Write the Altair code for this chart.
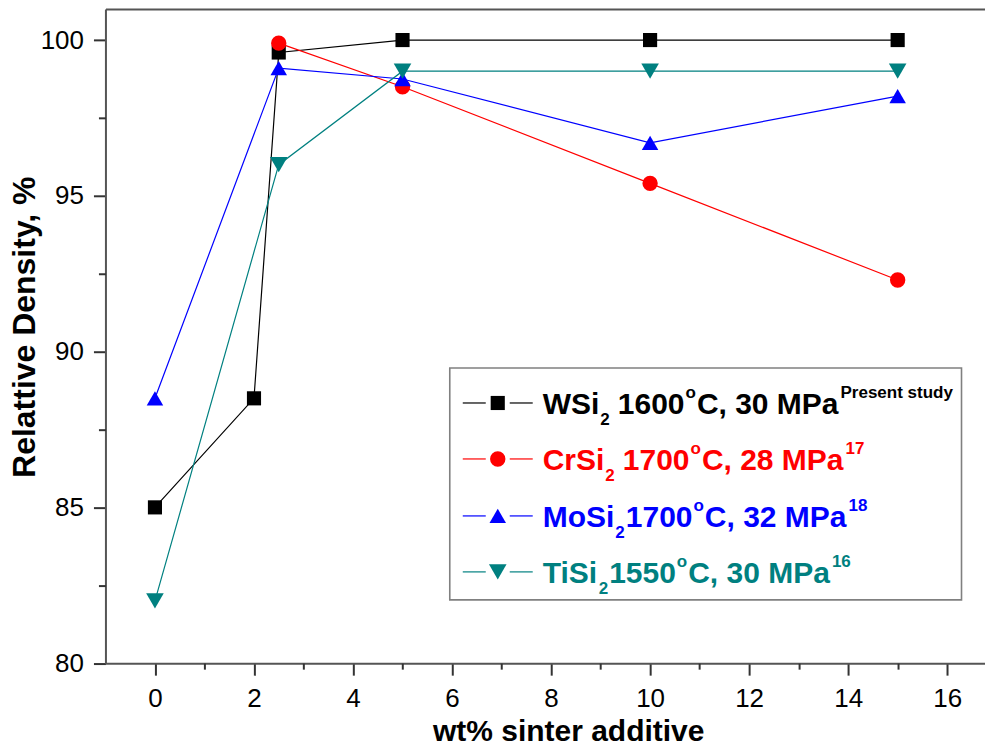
import altair as alt
import pandas as pd

# ---------------- data ----------------
series = ["WSi2", "CrSi2", "MoSi2", "TiSi2"]

w_x = [0, 2, 2.5, 5, 10, 15]
w_y = [85.0, 88.5, 99.6, 100.0, 100.0, 100.0]
cr_x = [2.5, 5, 10, 15]
cr_y = [99.9, 98.5, 95.4, 92.3]
mo_x = [0, 2.5, 5, 10, 15]
mo_y = [88.5, 99.1, 98.75, 96.7, 98.2]
ti_x = [0, 2.5, 5, 10, 15]
ti_y = [82.0, 96.0, 99.0, 99.0, 99.0]

legend_compound = ["WSi", "CrSi", "MoSi", "TiSi"]
legend_temp = ["1600", "1700", "1700", "1550"]
legend_press = ["C, 30 MPa", "C, 28 MPa", "C, 32 MPa", "C, 30 MPa"]
legend_ref = ["Present study", "17", "18", "16"]

x_major = [0, 2, 4, 6, 8, 10, 12, 14, 16]
x_minor = [1, 3, 5, 7, 9, 11, 13, 15]
y_major = [80, 85, 90, 95, 100]
y_minor = [82.5, 87.5, 92.5, 97.5]

# ---------------- styles ----------------
colors = ["#000000", "#ff0000", "#0000ff", "#008080"]
shapes = ["square", "circle", "triangle-up", "triangle-down"]
sizes = [200, 310, 420, 420]
FONT = "Liberation Sans"
AXC = "#555555"

W, H = 880, 654.6
PAD_L, PAD_T = 105.5, 8.7
PAD_B = 749 - PAD_T - H

rows = []
for s, xs_, ys_ in zip(series, [w_x, cr_x, mo_x, ti_x], [w_y, cr_y, mo_y, ti_y]):
    for a, b in zip(xs_, ys_):
        rows.append({"series": s, "x": a, "y": b})
df = pd.DataFrame(rows)

xs = alt.Scale(domain=[-1, 16.764], nice=False, zero=False)
ys = alt.Scale(domain=[80, 101], nice=False, zero=False)
color_enc = alt.Color("series:N", scale=alt.Scale(domain=series, range=colors), legend=None)

main_x_axis = alt.Axis(
    values=x_major, tickSize=12, tickWidth=2, tickColor="#333333",
    domainColor=AXC, domainWidth=2, grid=False,
    labelFont=FONT, labelFontSize=26, labelColor="black", labelPadding=10,
    labelFlush=False, labelOverlap=False, format="d",
    title="wt% sinter additive", titleFont=FONT, titleFontSize=30,
    titleFontWeight="bold", titleColor="black", titleX=463, titleY=77,
    titleBaseline="alphabetic", titleAlign="center",
)
main_y_axis = alt.Axis(
    values=y_major, tickSize=12, tickWidth=2, tickColor="#333333",
    domainColor=AXC, domainWidth=2, grid=False,
    labelFont=FONT, labelFontSize=26, labelColor="black", labelPadding=10,
    labelFlush=False, labelOverlap=False, format="d",
    title="Relattive Density, %", titleFont=FONT, titleFontSize=32,
    titleFontWeight="bold", titleColor="black", titleX=-70.5, titleY=318,
    titleBaseline="alphabetic", titleAlign="center", titleAngle=270,
)
minor_x_axis = alt.Axis(
    orient="bottom", values=x_minor, tickSize=6, tickWidth=2, tickColor="#333333",
    domain=False, labels=False, grid=False, title=None,
)
minor_y_axis = alt.Axis(
    orient="left", values=y_minor, tickSize=7, tickWidth=2, tickColor="#333333",
    domain=False, labels=False, grid=False, title=None,
)
top_axis = alt.Axis(
    orient="top", ticks=False, labels=False, domain=True, domainColor=AXC,
    domainWidth=2, grid=False, title=None,
)

lines = alt.Chart(df).mark_line(strokeWidth=1.2).encode(
    x=alt.X("x:Q", scale=xs, axis=main_x_axis),
    y=alt.Y("y:Q", scale=ys, axis=main_y_axis),
    color=color_enc,
)
points = alt.Chart(df).mark_point(filled=True, opacity=1, strokeWidth=0).encode(
    x=alt.X("x:Q", scale=xs, axis=minor_x_axis),
    y=alt.Y("y:Q", scale=ys, axis=minor_y_axis),
    color=color_enc,
    shape=alt.Shape("series:N", scale=alt.Scale(domain=series, range=shapes), legend=None),
    size=alt.Size("series:N", scale=alt.Scale(domain=series, range=sizes), legend=None),
)
frame = alt.Chart(df).mark_point(opacity=0).encode(
    x=alt.X("x:Q", scale=xs, axis=top_axis),
    y=alt.Y("y:Q", scale=ys, axis=None),
)

# ---------------- legend (manual, for sub/superscripts) ----------------
BOLD = {" ": 278, "%": 889, ",": 278, "C": 722, "M": 833, "P": 667, "S": 667,
        "T": 611, "W": 944, "a": 556, "i": 278, "o": 611, "r": 389, "d": 611,
        "e": 556, "n": 611, "s": 556, "t": 333, "u": 611, "y": 556}
for c in "0123456789":
    BOLD[c] = 556


def tw(s, fs):
    return sum(BOLD.get(ch, 556) for ch in s) * fs / 1000.0


FS_MAIN, FS_SMALL = 30, 17
row_y = [403 - PAD_T, 459 - PAD_T, 516 - PAD_T, 572 - PAD_T]
gaps = [8, 8, 1, 1]
x0 = 543 - PAD_L

main_rows, small_rows, sym_rows = [], [], []
for i, s in enumerate(series):
    base = row_y[i] + 11
    c = colors[i]
    x = x0
    main_rows.append({"t": legend_compound[i], "px": x, "py": base, "c": c})
    x += tw(legend_compound[i], FS_MAIN) + 1
    small_rows.append({"t": "2", "px": x, "py": base + 11, "c": c})
    x += tw("2", FS_SMALL) + gaps[i]
    main_rows.append({"t": legend_temp[i], "px": x, "py": base, "c": c})
    x += tw(legend_temp[i], FS_MAIN) + 1
    small_rows.append({"t": "o", "px": x, "py": base - 16, "c": c})
    x += tw("o", FS_SMALL) + 1
    main_rows.append({"t": legend_press[i], "px": x, "py": base, "c": c})
    x += tw(legend_press[i], FS_MAIN) + 2
    small_rows.append({"t": legend_ref[i], "px": x, "py": base - 16, "c": c})
    sym_rows.append({"series": s, "c": c, "py": row_y[i],
                     "a1": 463 - PAD_L, "a2": 486 - PAD_L,
                     "b1": 510 - PAD_L, "b2": 533 - PAD_L, "m": 498 - PAD_L})

main_df = pd.DataFrame(main_rows)
small_df = pd.DataFrame(small_rows)
sym_df = pd.DataFrame(sym_rows)

box = alt.Chart(pd.DataFrame({"k": [0]})).mark_rect(
    fill="white", stroke="#808080", strokeWidth=1.6
).encode(
    x=alt.value(450 - PAD_L), x2=alt.value(962 - PAD_L),
    y=alt.value(368 - PAD_T), y2=alt.value(600 - PAD_T),
)

def px(field):
    return alt.X(field + ":Q", scale=None, axis=None)

def py(field):
    return alt.Y(field + ":Q", scale=None, axis=None)

seg1 = alt.Chart(sym_df).mark_rule(strokeWidth=1.2).encode(
    x=px("a1"), x2="a2:Q", y=py("py"), color=alt.Color("c:N", scale=None))
seg2 = alt.Chart(sym_df).mark_rule(strokeWidth=1.2).encode(
    x=px("b1"), x2="b2:Q", y=py("py"), color=alt.Color("c:N", scale=None))
sym = alt.Chart(sym_df).mark_point(filled=True, opacity=1, strokeWidth=0).encode(
    x=px("m"), y=py("py"), color=alt.Color("c:N", scale=None),
    shape=alt.Shape("series:N", scale=alt.Scale(domain=series, range=shapes), legend=None),
    size=alt.Size("series:N", scale=alt.Scale(domain=series, range=sizes), legend=None),
)
txt_main = alt.Chart(main_df).mark_text(
    font=FONT, fontSize=FS_MAIN, fontWeight="bold", align="left", baseline="alphabetic"
).encode(x=px("px"), y=py("py"), text="t:N", color=alt.Color("c:N", scale=None))
txt_small = alt.Chart(small_df).mark_text(
    font=FONT, fontSize=FS_SMALL, fontWeight="bold", align="left", baseline="alphabetic"
).encode(x=px("px"), y=py("py"), text="t:N", color=alt.Color("c:N", scale=None))

chart = alt.layer(
    lines, points, frame, box, seg1, seg2, sym, txt_main, txt_small
).resolve_axis(x="independent", y="independent").properties(
    width=W, height=H,
    autosize=alt.AutoSizeParams(type="none"),
    padding={"left": PAD_L, "top": PAD_T, "right": 0, "bottom": PAD_B},
    background="white",
).configure_view(stroke=None)

chart.save("out.html", embed_options={"renderer": "svg", "actions": False})
